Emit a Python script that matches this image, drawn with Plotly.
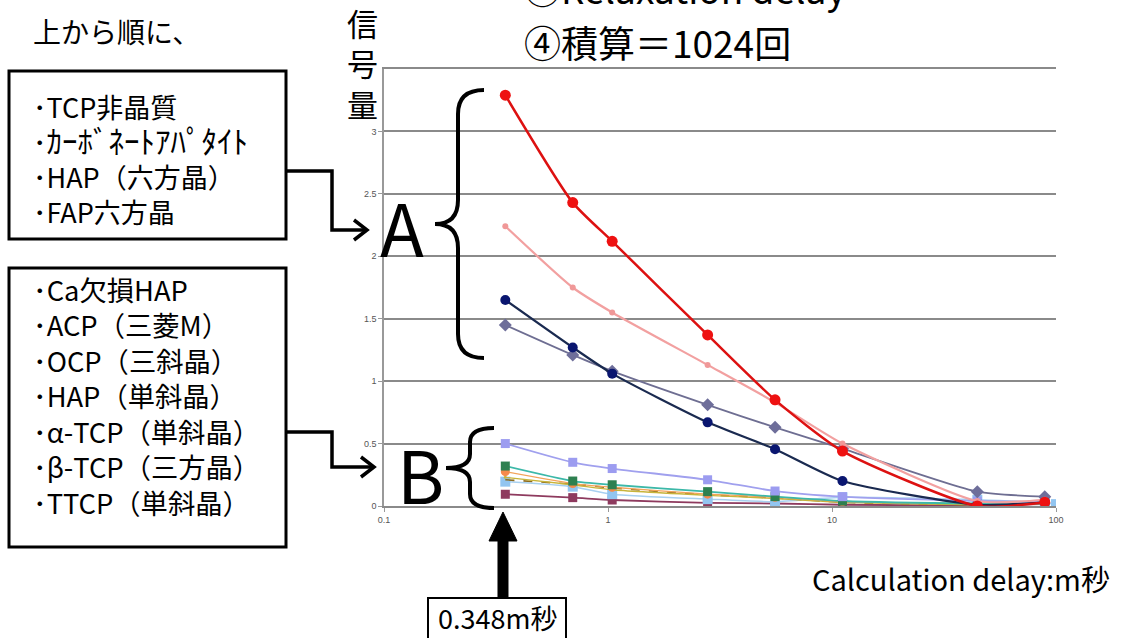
import plotly.graph_objects as go

# ---------------- data ----------------
delay_ms = [0.348, 0.696, 1.044, 2.784, 5.568, 11.136, 44.544, 89.088]
delay_ms_lb = [0.348, 0.696, 1.044, 2.784, 5.568, 11.136, 44.544, 89.088, 100.0]

# group A
sig_red = [3.29, 2.43, 2.12, 1.37, 0.85, 0.44, 0.00, 0.03]
sig_pink = [2.24, 1.75, 1.55, 1.13, 0.83, 0.50, 0.04, 0.05]
sig_navy = [1.65, 1.27, 1.06, 0.67, 0.455, 0.20, 0.01, 0.03]
sig_gray = [1.45, 1.21, 1.08, 0.81, 0.63, 0.46, 0.115, 0.075]
# group B
sig_lav = [0.50, 0.35, 0.30, 0.21, 0.12, 0.075, 0.04, 0.03]
sig_green = [0.32, 0.20, 0.17, 0.115, 0.075, 0.04, 0.02, 0.02]
sig_orange = [0.275, 0.18, 0.15, 0.095, 0.07, 0.035, 0.02, 0.02]
sig_gold = [0.23, 0.17, 0.13, 0.085, 0.06, 0.03, 0.01, 0.02]
sig_olive = [0.21, 0.175, 0.145, 0.09, 0.065, 0.03, 0.01, 0.02]
sig_lblue = [0.195, 0.155, 0.095, 0.055, 0.035, 0.07, 0.05, 0.025, 0.015]
sig_maroon = [0.094, 0.067, 0.048, 0.025, 0.02, 0.01, 0.005, 0.015]

y_ticks = [0, 0.5, 1, 1.5, 2, 2.5, 3]
y_ticktext = ["0", "0.5", "1", "1.5", "2", "2.5", "3"]
x_ticks = [0.1, 1, 10, 100]
x_ticktext = ["0.1", "1", "10", "100"]

group_a = ["･TCP非晶質", "･<span style='font-size:31px'>ｶｰﾎﾞﾈｰﾄｱﾊﾟﾀｲﾄ</span>",
           "･HAP（六方晶）", "･FAP六方晶"]
group_b = ["･Ca欠損HAP", "･ACP（三菱M）", "･OCP（三斜晶）", "･HAP（単斜晶）",
           "･α-TCP（単斜晶）", "･β-TCP（三方晶）", "･TTCP（単斜晶）"]

# ---------------- figure ----------------
W, H = 1124, 638
L, R, T, B = 384, 1056, 69, 506
JP = "Noto Sans CJK JP"


def px(x):
    return (x - L) / (R - L)


def py(y):
    return (B - y) / (B - T)


def path(points, close=False):
    s = "M " + " L ".join(f"{px(x):.5f},{py(y):.5f}" for x, y in points)
    return s + (" Z" if close else "")


def brace(x_end, x_sp, x_tip, y_top, y_mid, y_bot, r):
    p = lambda x, y: f"{px(x):.5f},{py(y):.5f}"
    return (f"M {p(x_end, y_top)} Q {p(x_sp, y_top)} {p(x_sp, y_top + r)} "
            f"L {p(x_sp, y_mid - r)} Q {p(x_sp, y_mid)} {p(x_tip, y_mid)} "
            f"Q {p(x_sp, y_mid)} {p(x_sp, y_mid + r)} "
            f"L {p(x_sp, y_bot - r)} Q {p(x_sp, y_bot)} {p(x_end, y_bot)}")


fig = go.Figure()

series = [
    (delay_ms, sig_maroon, "#8E3A5E", "#8E3A5E", "square", 9, 1.8, "solid"),
    (delay_ms_lb, sig_lblue, "#A8D0F0", "#92C5F0", "square", 10, 1.5, "solid"),
    (delay_ms, sig_olive, "#8B6B1F", "#8B6B1F", "line-ns", 6, 1.6, "dash"),
    (delay_ms, sig_gold, "#C8B43A", "#C8B43A", "circle", 3, 1.3, "solid"),
    (delay_ms, sig_orange, "#F3A35A", "#F58A4B", "circle", 9, 1.3, "solid"),
    (delay_ms, sig_green, "#3CB8A8", "#2E8050", "square", 9, 1.8, "solid"),
    (delay_ms, sig_lav, "#A0A0EE", "#9C9CF0", "square", 9, 1.8, "solid"),
    (delay_ms, sig_gray, "#6E6E92", "#6E6E9A", "diamond", 10, 1.8, "solid"),
    (delay_ms, sig_navy, "#1A2A50", "#0A1670", "circle", 10, 2.2, "solid"),
    (delay_ms, sig_pink, "#F2A0A0", "#F09898", "circle", 6, 2.2, "solid"),
    (delay_ms, sig_red, "#DD1111", "#EE1111", "circle", 11, 2.5, "solid"),
]
for xs, ys, lc, mc, sym, ms, lw, dash in series:
    fig.add_trace(go.Scatter(
        x=xs, y=ys, mode="lines+markers",
        line=dict(color=lc, width=lw, shape="spline", smoothing=0.6, dash=dash),
        marker=dict(color=mc, symbol=sym, size=ms, line=dict(width=0)),
        showlegend=False, hoverinfo="x+y"))

shapes = []
# boxes
shapes.append(dict(type="rect", xref="paper", yref="paper",
                   x0=px(9), x1=px(286), y0=py(239), y1=py(71),
                   line=dict(color="black", width=3), fillcolor="white", layer="above"))
shapes.append(dict(type="rect", xref="paper", yref="paper",
                   x0=px(9), x1=px(286), y0=py(547), y1=py(268),
                   line=dict(color="black", width=3), fillcolor="white", layer="above"))
# connectors
shapes.append(dict(type="path", xref="paper", yref="paper",
                   path=path([(286, 171), (332, 171), (332, 230), (366, 230)]),
                   line=dict(color="black", width=3.5)))
shapes.append(dict(type="path", xref="paper", yref="paper",
                   path=path([(354, 220), (367, 230), (354, 240)]),
                   line=dict(color="black", width=3.5)))
shapes.append(dict(type="path", xref="paper", yref="paper",
                   path=path([(286, 432), (332, 432), (332, 467), (373, 467)]),
                   line=dict(color="black", width=3.5)))
shapes.append(dict(type="path", xref="paper", yref="paper",
                   path=path([(361, 457), (374, 467), (361, 477)]),
                   line=dict(color="black", width=3.5)))
# braces
shapes.append(dict(type="path", xref="paper", yref="paper",
                   path=brace(484, 458, 435, 90, 224, 358, 24),
                   line=dict(color="black", width=4)))
shapes.append(dict(type="path", xref="paper", yref="paper",
                   path=brace(494, 470, 446, 428, 468, 508, 14),
                   line=dict(color="black", width=4)))
# up arrow
shapes.append(dict(type="path", xref="paper", yref="paper",
                   path=path([(503, 512), (517, 541), (508, 541), (508, 598),
                              (498, 598), (498, 541), (489, 541)], close=True),
                   fillcolor="black", line=dict(color="black", width=1)))
# 0.348 box
shapes.append(dict(type="rect", xref="paper", yref="paper",
                   x0=px(428), x1=px(566), y0=py(650), y1=py(598),
                   line=dict(color="black", width=2), fillcolor="white"))

ann = []


def text(x, y, s, size, xanchor="left", yanchor="middle", color="black", font=JP):
    ann.append(dict(x=px(x), y=py(y), xref="paper", yref="paper", text=s,
                    showarrow=False, xanchor=xanchor, yanchor=yanchor, align="left",
                    font=dict(family=font, size=size, color=color)))


text(31, 31, "上から順に、", 28)
text(31, 159, "<br>".join(group_a), 27)
text(31, 396, "<br>".join(group_b), 27.3)
text(402, 226, "A", 72, xanchor="center")
text(420, 472, "B", 72, xanchor="center")
text(362, 63, "信<br>号<br>量", 31, xanchor="center")
text(522, -12, "③Relaxation delay", 37)
text(522, 42, "④積算＝1024回", 37)
text(1112, 578, "Calculation delay:m秒", 29, xanchor="right")
text(497, 617, "0.348m秒", 27, xanchor="center")

fig.update_layout(
    width=W, height=H,
    margin=dict(l=L, r=W - R, t=T, b=H - B, pad=0),
    paper_bgcolor="white", plot_bgcolor="white",
    shapes=shapes, annotations=ann,
    xaxis=dict(type="log", range=[-1, 2], tickvals=x_ticks, ticktext=x_ticktext,
               showgrid=False, zeroline=False, showline=True, linecolor="#8a8a8a",
               linewidth=1.5, mirror=True, ticks="outside", ticklen=4, tickcolor="#999999",
               tickfont=dict(family="Liberation Sans", size=9, color="#555555")),
    yaxis=dict(range=[0, 3.5], tickvals=y_ticks, ticktext=y_ticktext,
               showgrid=True, gridcolor="#8a8a8a", gridwidth=1.5, zeroline=False,
               showline=True, linecolor="#999999", linewidth=1.5,
               ticks="outside", ticklen=4, tickcolor="#999999",
               tickfont=dict(family="Liberation Sans", size=9, color="#555555")),
)

fig.write_html("out.html")
